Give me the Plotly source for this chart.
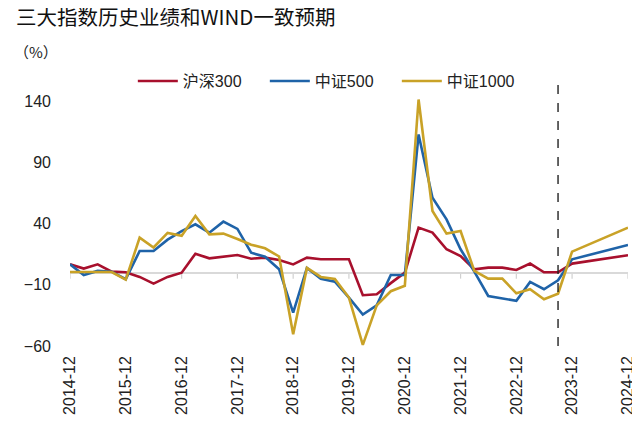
import plotly.graph_objects as go

# Quarterly history (2014-12 .. 2023-09) + WIND consensus (2023-12, 2024-12)
dates = [
    "2014-12-31", "2015-03-31", "2015-06-30", "2015-09-30", "2015-12-31",
    "2016-03-31", "2016-06-30", "2016-09-30", "2016-12-31",
    "2017-03-31", "2017-06-30", "2017-09-30", "2017-12-31",
    "2018-03-31", "2018-06-30", "2018-09-30", "2018-12-31",
    "2019-03-31", "2019-06-30", "2019-09-30", "2019-12-31",
    "2020-03-31", "2020-06-30", "2020-09-30", "2020-12-31",
    "2021-03-31", "2021-06-30", "2021-09-30", "2021-12-31",
    "2022-03-31", "2022-06-30", "2022-09-30", "2022-12-31",
    "2023-03-31", "2023-06-30", "2023-09-30",
    "2023-12-31", "2024-12-31",
]

hs300 = [6.8, 3.3, 6.8, 0.8, 0.3, -3.5, -9.0, -3.5, 0.0,
         15.5, 11.7, 12.8, 14.4, 11.4, 12.3, 10.4, 6.7,
         12.3, 11.0, 10.9, 10.9, -18.5, -17.7, -8.6, 0.0,
         36.8, 32.7, 19.1, 13.6, 2.7, 4.1, 4.1, 2.2,
         7.4, 0.3, 0.3, 7.4, 14.2]

zz500 = [6.8, -1.9, 1.4, 0.8, -5.4, 17.7, 17.7, 27.0, 34.0,
         39.5, 32.7, 41.7, 35.8, 16.3, 13.0, 2.7, -32.7,
         3.8, -5.0, -7.4, -20.4, -34.3, -26.8, -1.9, -1.9,
         113.0, 61.3, 43.6, 19.1, 0.8, -19.1, -21.2, -23.1,
         -7.6, -13.6, -6.3, 10.9, 22.6]

zz1000 = [0.5, 0.5, 0.5, 0.5, -5.8, 28.6, 20.6, 32.5, 30.2,
          46.3, 31.3, 31.9, 27.5, 22.9, 19.9, 13.2, -50.4,
          3.8, -3.5, -5.2, -20.4, -59.1, -26.8, -15.2, -10.7,
          141.6, 50.4, 31.9, 34.0, 1.4, -4.9, -4.9, -16.9,
          -13.6, -21.8, -17.2, 17.2, 36.8]

series_names = ["沪深300", "中证500", "中证1000"]
series_colors = ["#A8102D", "#1F63A8", "#C9A227"]

tick_dates = ["2014-12-31", "2015-12-31", "2016-12-31", "2017-12-31",
              "2018-12-31", "2019-12-31", "2020-12-31", "2021-12-31",
              "2022-12-31", "2023-12-31", "2024-12-31"]
tick_labels = ["2014-12", "2015-12", "2016-12", "2017-12", "2018-12",
               "2019-12", "2020-12", "2021-12", "2022-12", "2023-12", "2024-12"]
forecast_split = "2023-09-30"

FONT = "Liberation Sans, Arial, Noto Sans CJK SC, sans-serif"
CJK = "Noto Sans CJK SC, sans-serif"

fig = go.Figure()
for name, vals, col in zip(series_names, [hs300, zz500, zz1000], series_colors):
    fig.add_trace(go.Scatter(x=dates, y=vals, mode="lines", name=name,
                             line=dict(color=col, width=2.6)))

# small tick marks hanging from the zero line
for d in tick_dates:
    fig.add_shape(type="line", xref="x", yref="y", x0=d, x1=d,
                  ysizemode="pixel", yanchor=0, y0=0, y1=-6,
                  line=dict(color="#D0D0D0", width=1.2), layer="below")

# dashed separator between history and consensus
fig.add_shape(type="line", xref="x", yref="paper", x0=forecast_split, x1=forecast_split,
              y0=0, y1=1, line=dict(color="#222222", width=1.4, dash="dash"))

fig.update_layout(
    width=640, height=421,
    margin=dict(l=62, r=15, t=69, b=83),
    paper_bgcolor="white", plot_bgcolor="white",
    font=dict(family=FONT, size=16, color="#222222"),
    showlegend=True,
    legend=dict(orientation="h", x=0.1126, xanchor="left", y=0.985, yanchor="middle",
                bgcolor="rgba(0,0,0,0)", entrywidth=77, entrywidthmode="pixels",
                font=dict(family=FONT, size=16, color="#222222"),
                itemwidth=40, tracegroupgap=0),
    annotations=[
        dict(text="三大指数历史业绩和WIND一致预期", xref="paper", yref="paper",
             x=-0.1, y=1.29, xanchor="left", yanchor="top", showarrow=False,
             font=dict(family=CJK, size=20.5, color="#111111")),
        dict(text="（%）", xref="paper", yref="paper", x=-0.104, y=1.095,
             xanchor="left", yanchor="middle", showarrow=False,
             font=dict(family=CJK, size=15, color="#222222")),
    ],
)

fig.update_xaxes(type="date", range=[dates[0], dates[-1]],
                 tickvals=tick_dates, ticktext=tick_labels, tickangle=-90,
                 showgrid=False, showline=False, zeroline=False, ticks="",
                 ticklabelstandoff=6,
                 tickfont=dict(family=FONT, size=16, color="#222222"))
fig.update_yaxes(range=[-60, 160], tick0=-60, dtick=50,
                 showgrid=False, showline=False, ticks="",
                 zeroline=True, zerolinecolor="#D9D9D9", zerolinewidth=1.6,
                 ticklabelstandoff=18,
                 tickfont=dict(family=FONT, size=16, color="#222222"))

fig.write_html("out.html")
